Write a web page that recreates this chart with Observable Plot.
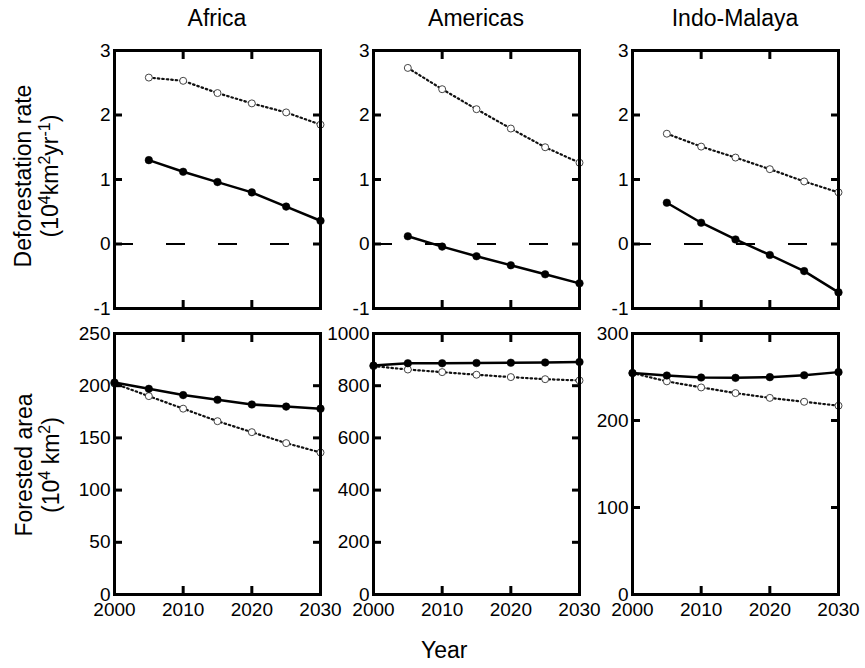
<!DOCTYPE html>
<html>
<head>
<meta charset="utf-8">
<script src="https://cdn.jsdelivr.net/npm/d3@7"></script>
<script src="https://cdn.jsdelivr.net/npm/@observablehq/plot@0.6"></script>
<style>
  html, body { margin: 0; padding: 0; background: white; }
  #fig { position: relative; width: 865px; height: 668px; font-family: "Liberation Sans", Arial, Helvetica, sans-serif; color: black; }
  .abs { position: absolute; }
  .title { position: absolute; font-size: 23px; text-align: center; width: 206px; }
  .ylab { position: absolute; font-size: 23px; line-height: 27px; text-align: center; white-space: nowrap; transform: rotate(-90deg); transform-origin: center center; }
  .ylab sup { font-size: 16px; line-height: 0; vertical-align: 0.55em; }
</style>
</head>
<body>
<div id="fig"></div>
<script>
// ---- data ----
const regions = ["Africa", "Americas", "Indo-Malaya"];
const yearsRate = [2005, 2010, 2015, 2020, 2025, 2030];
const yearsArea = [2000, 2005, 2010, 2015, 2020, 2025, 2030];
const xTicks = [2000, 2010, 2020, 2030];

// deforestation rate (10^4 km^2 yr^-1)
const africaRateSolid    = [1.30, 1.12, 0.96, 0.80, 0.58, 0.36];
const africaRateDotted   = [2.58, 2.53, 2.34, 2.18, 2.04, 1.85];
const americasRateSolid  = [0.12, -0.04, -0.19, -0.33, -0.47, -0.61];
const americasRateDotted = [2.73, 2.40, 2.09, 1.79, 1.50, 1.26];
const indoRateSolid      = [0.64, 0.33, 0.07, -0.17, -0.42, -0.75];
const indoRateDotted     = [1.71, 1.51, 1.34, 1.16, 0.97, 0.80];
const rateTicks = [-1, 0, 1, 2, 3];

// forested area (10^4 km^2)
const africaAreaSolid    = [203, 197, 191, 186.5, 182, 180, 178];
const africaAreaDotted   = [202, 190, 178, 166, 155.5, 145, 136];
const americasAreaSolid  = [877, 886, 886, 887, 888, 889, 891];
const americasAreaDotted = [875, 862, 852, 842, 833, 825, 820];
const indoAreaSolid      = [254.5, 251.7, 249.4, 249, 249.8, 252, 255.6];
const indoAreaDotted     = [254.5, 245, 238, 231.5, 226, 221.5, 217];
const africaAreaTicks    = [0, 50, 100, 150, 200, 250];
const americasAreaTicks  = [0, 200, 400, 600, 800, 1000];
const indoAreaTicks      = [0, 100, 200, 300];

// ---- layout ----
const fig = document.getElementById("fig");
const colLeft = [114, 373, 632];
const panelW = 206;
const rows = [{top: 50, h: 258}, {top: 333, h: 261}];
const ml = 50, mr = 25, mt = 12, mb = 34;
const tickLen = 8;
const fmt = d => String(d);
const blank = () => "";

function rows2data(years, vals) { return years.map((x, i) => ({x, y: vals[i]})); }

function panel(col, row, years, solid, dotted, yDomain, yTicks, showX, zeroLine) {
  const sd = rows2data(years, solid);
  const dd = rows2data(years, dotted);
  const {top, h} = rows[row];
  const tickStyle = {tickSize: -tickLen, strokeWidth: 3, stroke: "black", tickFormat: blank, label: null};
  const svg = Plot.plot({
    width: panelW + ml + mr,
    height: h + mt + mb,
    marginLeft: ml, marginRight: mr, marginTop: mt, marginBottom: mb,
    x: {domain: [2000, 2030], axis: null},
    y: {domain: yDomain, axis: null},
    style: {background: "none", overflow: "visible", fontFamily: "'Liberation Sans', Arial, sans-serif", fontSize: "19px", color: "black"},
    marks: [
      zeroLine ? Plot.ruleY([0], {stroke: "black", strokeWidth: 2, strokeDasharray: "19,33"}) : null,
      Plot.line(dd, {x: "x", y: "y", stroke: "#111", strokeWidth: 2.2, strokeDasharray: "1.5,3"}),
      Plot.dot(dd, {x: "x", y: "y", r: 3.5, stroke: "#444", strokeWidth: 1, fill: "white"}),
      Plot.line(sd, {x: "x", y: "y", stroke: "black", strokeWidth: 2.5}),
      Plot.dot(sd, {x: "x", y: "y", r: 3.8, fill: "black", stroke: "black", strokeWidth: 0.5}),
      // inward ticks on all four sides
      Plot.axisY(yTicks, {anchor: "left", ...tickStyle}),
      Plot.axisY(yTicks, {anchor: "right", ...tickStyle}),
      Plot.axisX(xTicks, {anchor: "bottom", ...tickStyle}),
      Plot.axisX(xTicks, {anchor: "top", ...tickStyle}),
      // tick labels
      Plot.axisY(yTicks, {anchor: "left", tickSize: 0, tickPadding: 4, tickFormat: fmt, label: null}),
      showX ? Plot.axisX(xTicks, {anchor: "bottom", tickSize: 0, tickPadding: 8, tickFormat: fmt, label: null}) : null,
      Plot.frame({stroke: "black", strokeWidth: 3})
    ]
  });
  svg.style.position = "absolute";
  svg.style.left = (colLeft[col] - ml) + "px";
  svg.style.top = (top - mt) + "px";
  svg.style.maxWidth = "none";
  fig.appendChild(svg);
}

panel(0, 0, yearsRate, africaRateSolid, africaRateDotted, [-1, 3], rateTicks, false, true);
panel(1, 0, yearsRate, americasRateSolid, americasRateDotted, [-1, 3], rateTicks, false, true);
panel(2, 0, yearsRate, indoRateSolid, indoRateDotted, [-1, 3], rateTicks, false, true);
panel(0, 1, yearsArea, africaAreaSolid, africaAreaDotted, [0, 250], africaAreaTicks, true, false);
panel(1, 1, yearsArea, americasAreaSolid, americasAreaDotted, [0, 1000], americasAreaTicks, true, false);
panel(2, 1, yearsArea, indoAreaSolid, indoAreaDotted, [0, 300], indoAreaTicks, true, false);

// titles
regions.forEach((name, i) => {
  const d = document.createElement("div");
  d.className = "title";
  d.textContent = name;
  d.style.left = colLeft[i] + "px";
  d.style.top = "5px";
  fig.appendChild(d);
});

// y axis titles
function ylab(html, cx, cy) {
  const d = document.createElement("div");
  d.className = "ylab";
  d.innerHTML = html;
  fig.appendChild(d);
  const w = d.offsetWidth, h = d.offsetHeight;
  d.style.left = (cx - w / 2) + "px";
  d.style.top = (cy - h / 2) + "px";
}
ylab("Deforestation rate<br>(10<sup>4</sup>km<sup>2</sup>yr<sup>-1</sup>)", 37, 176);
ylab("Forested area<br>(10<sup>4</sup> km<sup>2</sup>)", 37, 465);

// x axis title
const xl = document.createElement("div");
xl.className = "abs";
xl.style.fontSize = "23px";
xl.style.left = "421px";
xl.style.top = "637px";
xl.textContent = "Year";
fig.appendChild(xl);
</script>
</body>
</html>
